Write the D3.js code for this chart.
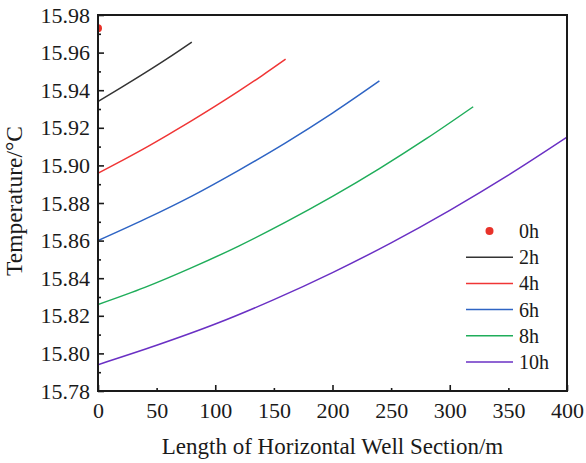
<!DOCTYPE html>
<html>
<head>
<meta charset="utf-8">
<script src="https://cdn.jsdelivr.net/npm/d3@7"></script>
<style>
  body { margin: 0; background: #fff; }
  svg { display: block; }
  text { font-family: "Liberation Serif", "Times New Roman", serif; fill: #1a1a1a; }
</style>
</head>
<body>
<div id="chart"></div>
<script>
// legend labels, one per time step
const hours = ["0h", "2h", "4h", "6h", "8h", "10h"];

// distance along the well (m) and temperature (°C)
const dist0h = [0];
const temp0h = [15.973];

const dist2h = [0, 20, 40, 60, 80];
const temp2h = [15.934, 15.9415, 15.9492, 15.9572, 15.9656];

const dist4h = [0, 20, 40, 60, 80, 100, 120, 140, 160];
const temp4h = [15.8958, 15.9024, 15.9092, 15.9164, 15.9238, 15.9315, 15.9395, 15.9478, 15.9565];

const dist6h = [0, 40, 80, 120, 160, 200, 240];
const temp6h = [15.860, 15.8714, 15.8837, 15.8974, 15.912, 15.9278, 15.9449];

const dist8h = [0, 40, 80, 120, 160, 200, 240, 280, 320];
const temp8h = [15.826, 15.8351, 15.8456, 15.8571, 15.8698, 15.8835, 15.8983, 15.9142, 15.9312];

const dist10h = [0, 50, 100, 150, 200, 250, 300, 350, 400];
const temp10h = [15.794, 15.8043, 15.8156, 15.8286, 15.843, 15.8588, 15.8761, 15.8948, 15.915];

// axis ticks
const xTicks = [0, 50, 100, 150, 200, 250, 300, 350, 400];
const yTicks = [15.78, 15.80, 15.82, 15.84, 15.86, 15.88, 15.90, 15.92, 15.94, 15.96, 15.98];
const yMinor = [15.79, 15.81, 15.83, 15.85, 15.87, 15.89, 15.91, 15.93, 15.95, 15.97];

const colors = ["#e8322a", "#333333", "#f03535", "#2e64c4", "#1fad5a", "#6a30c4"];

const width = 586, height = 463;
const margin = { top: 15, right: 19, bottom: 72, left: 98 };
const w = width - margin.left - margin.right;
const h = height - margin.top - margin.bottom;

const svg = d3.select("#chart").append("svg")
  .attr("width", width)
  .attr("height", height);

const g = svg.append("g")
  .attr("transform", "translate(" + margin.left + "," + margin.top + ")");

const x = d3.scaleLinear().domain([0, 400]).range([0, w]);
const y = d3.scaleLinear().domain([15.78, 15.98]).range([h, 0]);

svg.append("defs").append("clipPath").attr("id", "clip")
  .append("rect").attr("width", w).attr("height", h);

// line series
const series = [
  { d: dist2h, t: temp2h },
  { d: dist4h, t: temp4h },
  { d: dist6h, t: temp6h },
  { d: dist8h, t: temp8h },
  { d: dist10h, t: temp10h }
];

const line = d3.line()
  .x(function(p) { return x(p[0]); })
  .y(function(p) { return y(p[1]); })
  .curve(d3.curveMonotoneX);

const plot = g.append("g").attr("clip-path", "url(#clip)");

series.forEach(function(s, i) {
  plot.append("path")
    .datum(d3.zip(s.d, s.t))
    .attr("fill", "none")
    .attr("stroke", colors[i + 1])
    .attr("stroke-width", 1.5)
    .attr("d", line);
});

plot.selectAll(".dot0")
  .data(d3.zip(dist0h, temp0h))
  .enter()
  .append("circle")
  .attr("class", "dot0")
  .attr("cx", function(p) { return x(p[0]); })
  .attr("cy", function(p) { return y(p[1]); })
  .attr("r", 4)
  .attr("fill", colors[0]);

// axes, ticks pointing inward
g.append("g")
  .call(d3.axisLeft(y).tickValues(yTicks).tickSize(-6).tickPadding(8)
    .tickFormat(d3.format(".2f")));
g.append("g")
  .call(d3.axisLeft(y).tickValues(yMinor).tickSize(-3).tickFormat(""));

const xAxis = g.append("g")
  .attr("transform", "translate(0," + h + ")")
  .call(d3.axisBottom(x).tickValues(xTicks).tickPadding(11)
    .tickSize(-6).tickFormat(d3.format("d")));
xAxis.selectAll(".tick line")
  .attr("y2", function(d) { return d % 100 === 0 ? -6 : -3; });

g.selectAll(".domain").remove();
g.selectAll(".tick line").attr("stroke", "#1a1a1a").attr("stroke-width", 1.6);
g.selectAll(".tick text")
  .attr("font-size", 22)
  .attr("font-family", "'Liberation Serif', 'Times New Roman', serif")
  .attr("fill", "#1a1a1a");

// frame
g.append("rect")
  .attr("width", w)
  .attr("height", h)
  .attr("fill", "none")
  .attr("stroke", "#1a1a1a")
  .attr("stroke-width", 2);

// axis titles
svg.append("text")
  .attr("x", margin.left + w / 2)
  .attr("y", 454)
  .attr("text-anchor", "middle")
  .attr("font-size", 23)
  .text("Length of Horizontal Well Section/m");

svg.append("text")
  .attr("transform", "translate(22," + (margin.top + h / 2 - 2) + ") rotate(-90)")
  .attr("text-anchor", "middle")
  .attr("font-size", 23.5)
  .text("Temperature/°C");

// legend
const legend = svg.append("g").attr("transform", "translate(466,231)");
const item = legend.selectAll(".item")
  .data(hours)
  .enter()
  .append("g")
  .attr("class", "item")
  .attr("transform", function(d, i) { return "translate(0," + i * 26.2 + ")"; });

item.filter(function(d, i) { return i === 0; })
  .append("circle")
  .attr("cx", 23.5)
  .attr("r", 4)
  .attr("fill", colors[0]);

item.filter(function(d, i) { return i > 0; })
  .append("line")
  .attr("x1", 0)
  .attr("x2", 47)
  .attr("stroke", function(d) { return colors[hours.indexOf(d)]; })
  .attr("stroke-width", 1.5);

item.append("text")
  .attr("x", 53)
  .attr("y", 7)
  .attr("font-size", 20)
  .text(function(d) { return d; });
</script>
</body>
</html>
